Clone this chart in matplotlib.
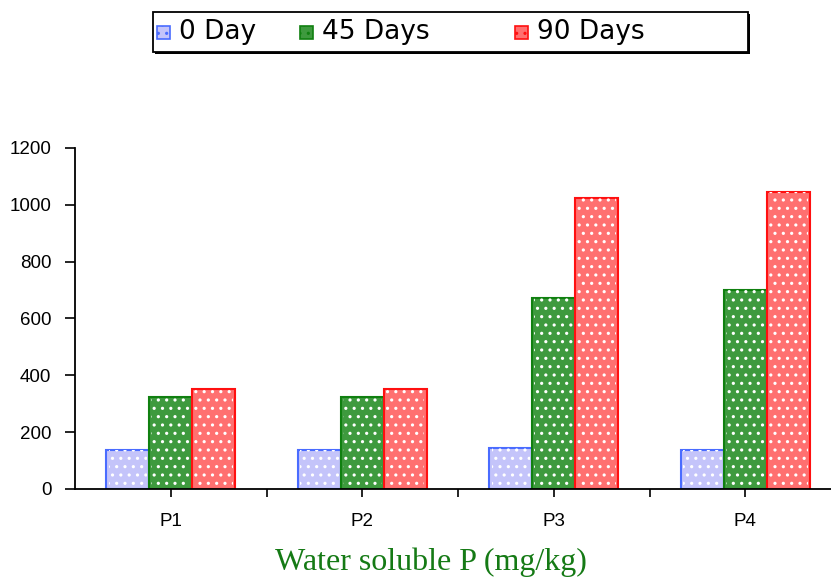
import numpy as np
import matplotlib.pyplot as plt
from matplotlib.patches import Rectangle

# Data
categories = ["P1", "P2", "P3", "P4"]
day0 = [137, 137, 144, 137]
day45 = [324, 323, 672, 700]
day90 = [352, 352, 1024, 1045]
series_labels = ["0 Day", "45 Days", "90 Days"]
y_ticks = [0, 200, 400, 600, 800, 1000, 1200]

face_colors = ["#c4c4fa", "#3e9a3e", "#ff7070"]
edge_colors = ["#4a6cff", "#108010", "#ff1010"]

plt.rcParams['font.family'] = ['Liberation Sans', 'DejaVu Sans']
plt.rcParams['hatch.linewidth'] = 1.1

fig = plt.figure(figsize=(8.31, 5.88), dpi=100)
ax = fig.add_axes([0.0903, 0.1684, 0.9218, 0.5799])

x = np.arange(len(categories))
width = 0.224
for i, vals in enumerate([day0, day45, day90]):
    pos = x + (i - 1) * width
    # filled bar with border
    ax.bar(pos, vals, width, color=face_colors[i], edgecolor=edge_colors[i],
           linewidth=1.5, zorder=2)
    # white dot pattern on top
    ax.bar(pos, vals, width * 0.9, color='none', edgecolor='white',
           hatch='..', linewidth=0, zorder=3)

ax.set_xlim(-0.5, 3.5)
ax.set_ylim(0, 1200)
ax.set_yticks(y_ticks)
ax.set_yticklabels([str(v) for v in y_ticks], fontsize=13.5)
ax.set_xticks(x)
ax.set_xticklabels(categories, fontsize=13.5)
ax.set_xticks(np.arange(len(categories)) + 0.5, minor=True)
ax.tick_params(axis='x', which='both', direction='out', length=6, width=1.2, pad=11)
ax.tick_params(axis='y', direction='out', length=7, width=1.2, pad=10)

ax.spines['top'].set_visible(False)
ax.spines['right'].set_visible(False)
ax.spines['left'].set_linewidth(1.3)
ax.spines['bottom'].set_linewidth(1.3)

fig.text(0.519, 0.044, "Water soluble P (mg/kg)", fontsize=23,
         family='Liberation Serif', color='#157a15', ha='center', va='center')

# legend box drawn by hand to follow the wide layout of the original
W, H = 831.0, 588.0
fig.patches.append(Rectangle((155 / W, 1 - 54 / H), 595 / W, 40 / H,
                             transform=fig.transFigure, facecolor='black',
                             edgecolor='none', zorder=1))
fig.patches.append(Rectangle((153 / W, 1 - 52 / H), 595 / W, 40 / H,
                             transform=fig.transFigure, facecolor='white',
                             edgecolor='black', linewidth=1.3, zorder=2))
marker_x = [157, 300, 515]
text_x = [179, 322, 537]
for i, lab in enumerate(series_labels):
    fig.patches.append(Rectangle((marker_x[i] / W, 1 - 39 / H), 13 / W, 13 / H,
                                 transform=fig.transFigure,
                                 facecolor=face_colors[i], edgecolor=edge_colors[i],
                                 linewidth=1.2, hatch='..', zorder=3))
    fig.text(text_x[i] / W, 1 - 32 / H, lab, fontsize=19, family='DejaVu Sans',
             ha='left', va='center', zorder=4)

fig.savefig("out.png", dpi=100)
